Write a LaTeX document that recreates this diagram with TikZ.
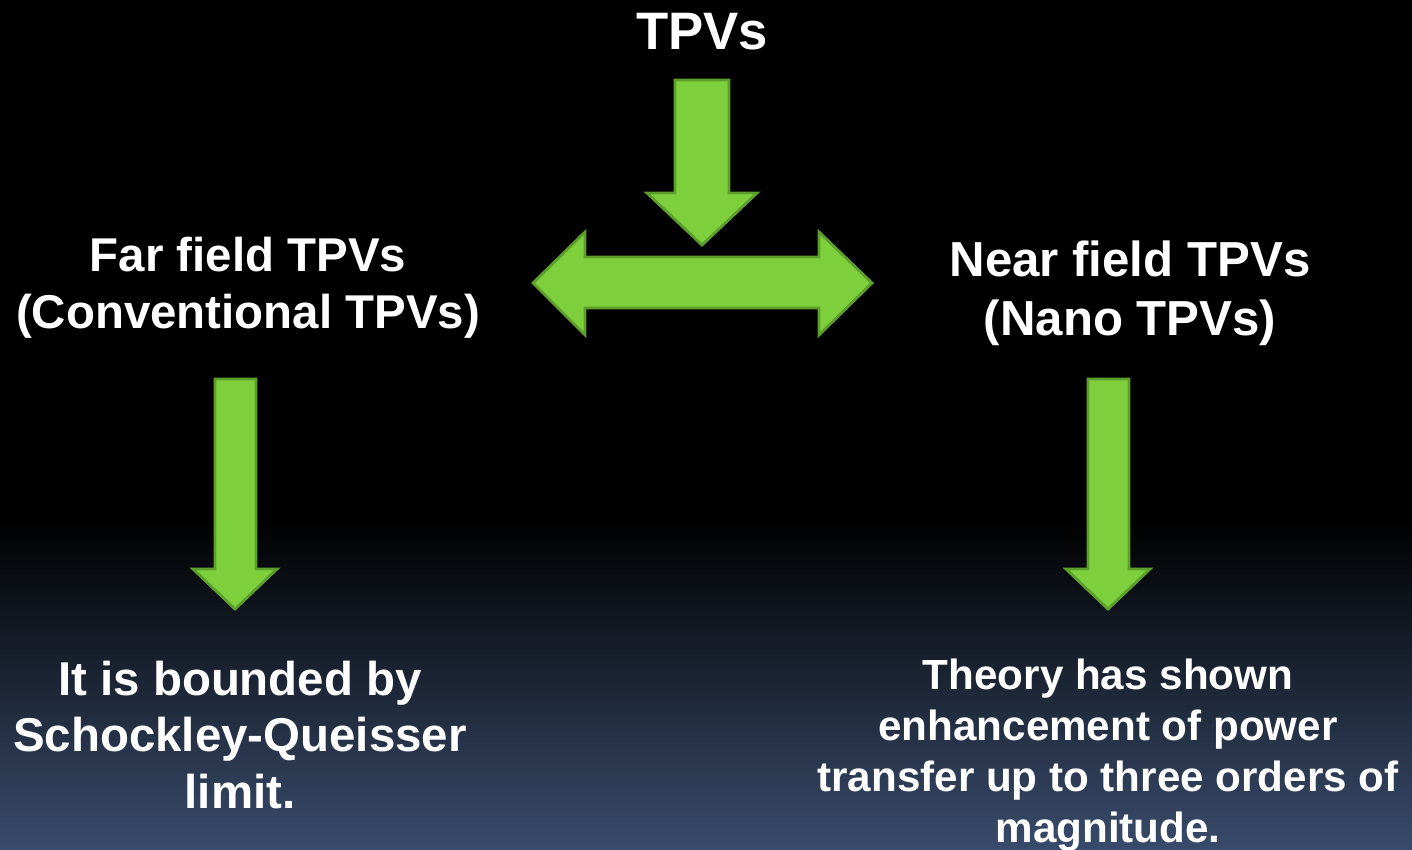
\documentclass[tikz,border=0pt]{standalone}
\usepackage{fontspec}
\setmainfont{Liberation Sans}
\usepackage{xcolor}
\definecolor{arrowfill}{RGB}{125,208,60}
\definecolor{arrowline}{RGB}{94,158,44}
\definecolor{bgblue}{RGB}{57,75,107}

\begin{document}
\begin{tikzpicture}[x=0.02cm,y=-0.02cm,
  blockarrow/.style={fill=arrowfill,draw=arrowline,line width=1.6pt,line join=miter},
  tpvtext/.style={text=white,align=center,inner sep=0pt}]
\useasboundingbox (0,0) rectangle (1412,849);
% background
\fill[black] (0,0) rectangle (1412,520);
\shade[top color=black,bottom color=bgblue] (0,519) rectangle (1412,849);
%top
\node[tpvtext,font=\fontsize{30pt}{36pt}\selectfont\bfseries] (tpv) at (702,32) {TPVs};
\draw[blockarrow] (675,80) -- (729,80) -- (729,193) -- (757,193) -- (702,245)
  -- (647,193) -- (675,193) -- cycle;
\draw[blockarrow] (533,283) -- (585,232) -- (585,257) -- (819,257) -- (819,232)
  -- (872,283) -- (819,335) -- (819,308) -- (585,308) -- (585,335) -- cycle;
%far field
\node[tpvtext,font=\fontsize{27pt}{32.4pt}\selectfont\bfseries] (far) at (248,288)
  {Far field TPVs\\(Conventional TPVs)};
\draw[blockarrow] (215,379) -- (256,379) -- (256,569) -- (277,569) -- (235,609)
  -- (193,569) -- (215,569) -- cycle;
\node[tpvtext,font=\fontsize{27pt}{32.4pt}\selectfont\bfseries] (sq) at (240,735)
  {It is bounded by\\Schockley-Queisser\\limit.};
%near field
\node[tpvtext,font=\fontsize{28pt}{33.6pt}\selectfont\bfseries] (near) at (1130,293)
  {Near field TPVs\\(Nano TPVs)};
\draw[blockarrow] (1088,379) -- (1129,379) -- (1129,569) -- (1150,569) -- (1108,609)
  -- (1066,569) -- (1088,569) -- cycle;
\node[tpvtext,font=\fontsize{24pt}{29pt}\selectfont\bfseries] (theory) at (1108,755)
  {Theory has shown\\enhancement of power\\transfer up to three orders of\\magnitude.};
\end{tikzpicture}
\end{document}
